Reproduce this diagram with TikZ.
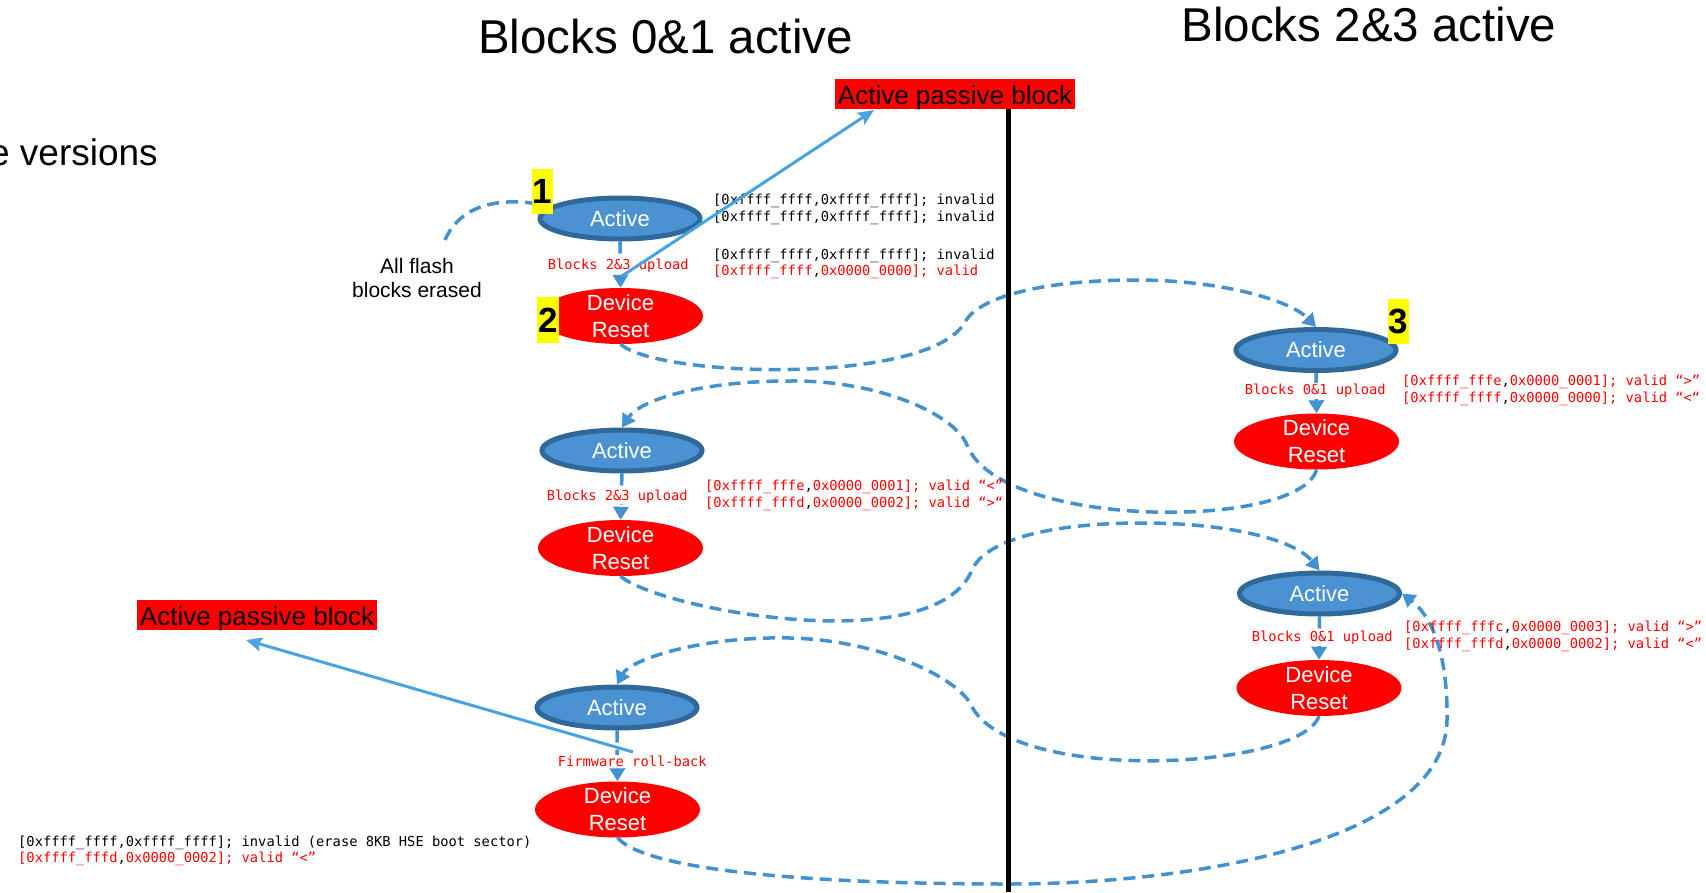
\documentclass[tikz,border=0pt]{standalone}
\usepackage{fontspec}
\setmainfont{Liberation Sans}
\newfontfamily\codefont{DejaVu Sans Mono}
\usetikzlibrary{arrows.meta,shapes.geometric}

\definecolor{actfill}{RGB}{74,146,209}
\definecolor{actedge}{RGB}{48,104,154}
\definecolor{flowblue}{RGB}{66,145,208}
\definecolor{pointer}{RGB}{72,163,224}
\definecolor{hlyellow}{RGB}{255,255,0}
\definecolor{alarm}{RGB}{255,0,0}

% black comma inside red code lines
\newcommand\bc{\textcolor{black}{,}}

\begin{document}
\begin{tikzpicture}[x=1pt,y=-1pt,
  every node/.style={inner sep=0pt},
  title/.style={font=\fontsize{47.5}{57}\selectfont, anchor=base},
  activenode/.style={ellipse, draw=actedge, line width=5pt, fill=actfill,
    minimum width=160pt, minimum height=41pt, text=white,
    font=\fontsize{22}{26}\selectfont},
  resetnode/.style={ellipse, fill=alarm, minimum width=165pt, minimum height=56pt,
    label={[text=white, align=center, font=\fontsize{22}{27}\selectfont]center:Device\\Reset}},
  numbox/.style={fill=hlyellow, minimum width=21pt, minimum height=45pt,
    font=\bfseries\fontsize{35}{40}\selectfont},
  passivebox/.style={fill=alarm, minimum width=240pt, minimum height=30pt,
    text height=23pt, text depth=3pt, font=\fontsize{26}{30}\selectfont},
  code/.style={font=\codefont\fontsize{13.75}{16.5}\selectfont, anchor=base west},
  redcode/.style={code, text=alarm},
  steplabel/.style={font=\codefont\fontsize{13.75}{16.5}\selectfont, text=alarm,
    fill=white, inner ysep=1pt},
  flowdash/.style={draw=flowblue, line width=3.5pt, dash pattern=on 12pt off 7pt},
  flowtip/.style={-{Triangle[width=15pt,length=13pt]}, flowblue},
  pointerline/.style={draw=pointer, line width=3pt, -{Stealth[length=16pt,width=14pt,inset=3pt]}}
]
\useasboundingbox (0,0) rectangle (1706,892);

% column headers
\node[title] (hdrA) at (665.5,53) {Blocks 0\&1 active};
\node[title] (hdrB) at (1369,41) {Blocks 2\&3 active};
\node[font=\fontsize{37}{44}\selectfont, anchor=base east] (versions) at (158,165) {e versions};

% state nodes, left column
\node[activenode] (a1) at (620,218.5) {Active};
\node[resetnode]  (r1) at (620.5,316) {};
\node[activenode] (a2) at (622,450.5) {Active};
\node[resetnode]  (r2) at (620.5,548) {};
\node[activenode] (a4) at (617,707.5) {Active};
\node[resetnode]  (r4) at (617.5,809.5) {};
% state nodes, right column
\node[activenode] (a3) at (1316,350) {Active};
\node[resetnode]  (r3) at (1316.5,441.5) {};
\node[activenode] (a5) at (1319.5,593.5) {Active};
\node[resetnode]  (r5) at (1319,688) {};

% start hint
\node[anchor=base, font=\fontsize{21}{24}\selectfont] (erase1) at (417,273) {All flash};
\node[anchor=base, font=\fontsize{21}{24}\selectfont] (erase2) at (417,297) {blocks erased};
\coordinate (erasestart) at (445,240);
\draw[flowdash] (erasestart) .. controls (460,205) and (500,195) .. (a1.170);

% upload / roll-back steps inside each column
\draw[flowdash, flowtip] (a1.south) -- (r1.north)
  node[steplabel, midway, xshift=-2pt, yshift=-1pt] (l1) {Blocks 2\&3 upload};
\draw[flowdash, flowtip] (a2.south) -- (r2.north)
  node[steplabel, midway, xshift=-4pt] (l2) {Blocks 2\&3 upload};
\draw[flowdash, flowtip] (a3.south) -- (r3.north)
  node[steplabel, midway, xshift=-1pt, yshift=2pt] (l3) {Blocks 0\&1 upload};
\draw[flowdash, flowtip] (a5.south) -- (r5.north)
  node[steplabel, midway, xshift=3pt] (l5) {Blocks 0\&1 upload};
\draw[flowdash, flowtip] (a4.south) -- (r4.north)
  node[steplabel, midway, xshift=15pt, yshift=-5pt] (l4) {Firmware roll-back};

% transitions across the column divider
\draw[flowdash, flowtip] (r1.south) .. controls (660,378) and (930,385) .. (965,322)
  .. controls (980,295) and (1050,280) .. (1136,280)
  .. controls (1220,280) and (1290,300) .. (a3.north);
\draw[flowdash, flowtip] (r3.south) .. controls (1300,530) and (1000,530) .. (967,445)
  .. controls (955,415) and (880,380) .. (790,381)
  .. controls (700,381) and (640,400) .. (a2.north);
\draw[flowdash, flowtip] (r2.south) .. controls (660,610) and (935,660) .. (972,570)
  .. controls (985,540) and (1050,523) .. (1142,523)
  .. controls (1230,523) and (1295,540) .. (a5.north);
\draw[flowdash, flowtip] (r5.south) .. controls (1300,770) and (1010,785) .. (971,705)
  .. controls (958,678) and (880,640) .. (790,638)
  .. controls (700,636) and (630,660) .. (a4.north);
\draw[flowdash, flowtip] (r4.south) .. controls (650,875) and (850,884) .. (1008,884)
  .. controls (1200,884) and (1445,840) .. (1447,720)
  .. controls (1448,650) and (1430,615) .. (a5.east);

% version counters written at each step
\node[code] (c1a) at (713,204.5) {[0xffff\_ffff,0xffff\_ffff]; invalid};
\node[code] (c1b) at (713,221.5) {[0xffff\_ffff,0xffff\_ffff]; invalid};
\node[code] (c1c) at (713,259.5) {[0xffff\_ffff,0xffff\_ffff]; invalid};
\node[redcode] (c1d) at (713,275.5) {[0xffff\_ffff\bc0x0000\_0000]; valid};

\node[redcode] (c3a) at (1402,385.5) {[0xffff\_fffe\bc0x0000\_0001]; valid “>”};
\node[redcode] (c3b) at (1402,402.5) {[0xffff\_ffff\bc0x0000\_0000]; valid “<“};

\node[redcode] (c2a) at (705,490.5) {[0xffff\_fffe\bc0x0000\_0001]; valid “<”};
\node[redcode] (c2b) at (705,507.5) {[0xffff\_fffd\bc0x0000\_0002]; valid “>“};

\node[redcode] (c5a) at (1404,631.5) {[0xffff\_fffc\bc0x0000\_0003]; valid “>”};
\node[redcode] (c5b) at (1404,648.5) {[0xffff\_fffd\bc0x0000\_0002]; valid “<”};

\node[code] (c4a) at (18,846.5) {[0xffff\_ffff,0xffff\_ffff]; invalid (erase 8KB HSE boot sector)};
\node[redcode] (c4b) at (18,862.5) {[0xffff\_fffd\bc0x0000\_0002]; valid “<”};

% passive-block callouts
\node[passivebox] (apb1) at (955,94) {Active passive block};
\node[passivebox] (apb2) at (257,615) {Active passive block};
\coordinate (p1from) at (622,276);
\coordinate (p1to) at (874,110);
\coordinate (p2from) at (633,752);
\coordinate (p2to) at (246,640);
\draw[pointerline] (p1from) -- (p1to);
\draw[pointerline] (p2from) -- (p2to);

% divider between the two halves
\coordinate (divtop) at (1008.5,109);
\coordinate (divbot) at (1008.5,892);
\draw[line width=5pt] (divtop) -- (divbot);

% step numbers
\node[numbox] (n1) at (542.5,191.5) {1};
\node[numbox, minimum width=22pt, minimum height=46pt] (n2) at (548,320) {2};
\node[numbox] (n3) at (1398.5,321.5) {3};
\end{tikzpicture}
\end{document}
